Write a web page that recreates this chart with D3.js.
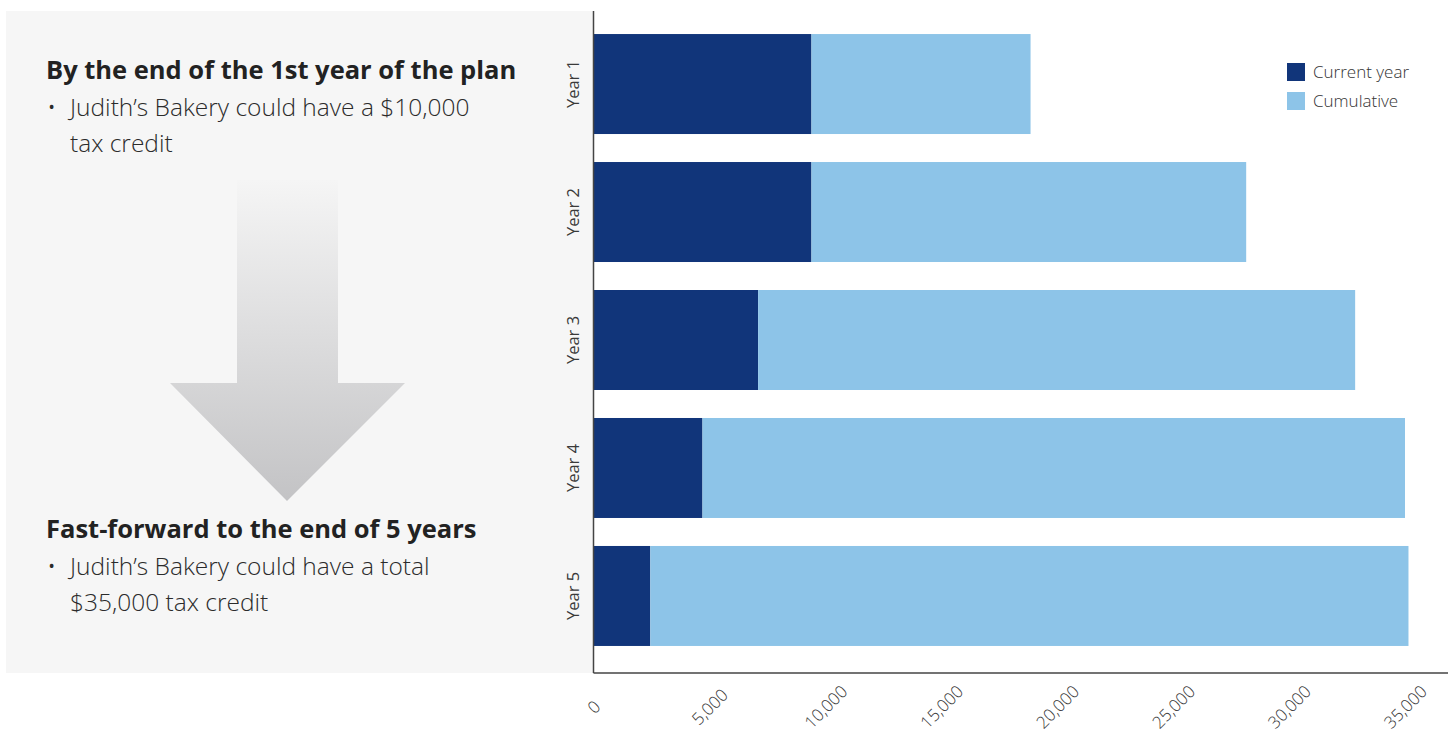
<!DOCTYPE html>
<html lang="en">

<head>
  <meta charset="UTF-8">
  <title>tax credit bars</title>
  <script src="https://d3js.org/d3.v7.min.js"></script>

  <style>
    body {
      margin: 0;
      background: white;
    }

    text {
      font-family: "Open Sans", "Noto Sans", sans-serif;
    }

    .heading {
      font-weight: 700;
      font-size: 25.5px;
      fill: #222;
    }

    .body {
      font-weight: 300;
      font-size: 24.5px;
      fill: #2b2b2b;
    }

    .tick text {
      font-size: 17px;
      fill: #3a3a3a;
      font-weight: 300;
    }

    .yearLabel {
      font-size: 16.5px;
      fill: #3a3a3a;
      font-weight: 400;
    }

    .legendText {
      font-size: 17px;
      fill: #333;
      font-weight: 300;
    }
  </style>
</head>

<body>
  <svg id="chart" height="733" width="1448"></svg>

  <script>
    // data
    const years = ["Year 1", "Year 2", "Year 3", "Year 4", "Year 5"];
    const currentYear = [9400, 9400, 7100, 4700, 2450];
    const cumulative = [9450, 18750, 25750, 30300, 32700];
    const seriesNames = ["Current year", "Cumulative"];
    const xTicks = [0, 5000, 10000, 15000, 20000, 25000, 30000, 35000];

    const notes = [
      { head: "By the end of the 1st year of the plan", lines: ["Judith\u2019s Bakery could have a $10,000", "tax credit"] },
      { head: "Fast-forward to the end of 5 years", lines: ["Judith\u2019s Bakery could have a total", "$35,000 tax credit"] }
    ];

    const svg = d3.select("#chart");
    const width = +svg.attr("width");

    const colors = d3.scaleOrdinal().domain(seriesNames).range(["#11357a", "#8dc4e8"]);

    // left grey panel
    svg.append("rect")
      .attr("x", 6).attr("y", 11)
      .attr("width", 588).attr("height", 662)
      .attr("fill", "#f6f6f6");

    // arrow with gradient
    const grad = svg.append("defs").append("linearGradient")
      .attr("id", "arrowGrad")
      .attr("x1", 0).attr("y1", 0).attr("x2", 0).attr("y2", 1);
    grad.append("stop").attr("offset", "0%").attr("stop-color", "#f5f5f5");
    grad.append("stop").attr("offset", "100%").attr("stop-color", "#c3c3c5");

    svg.append("path")
      .attr("d", "M237,180 L338,180 L338,383 L405,383 L287,501 L170,383 L237,383 Z")
      .attr("fill", "url(#arrowGrad)");

    // text blocks
    const noteY = [79, 538];
    notes.forEach((n, i) => {
      const g = svg.append("g").attr("transform", "translate(0," + noteY[i] + ")");
      g.append("text").attr("class", "heading").attr("x", 46).attr("y", 0).text(n.head);
      g.append("text").attr("class", "body").attr("x", 47).attr("y", 37).text("\u2022");
      n.lines.forEach((l, j) => {
        g.append("text").attr("class", "body").attr("x", 70).attr("y", 37 + j * 36).text(l);
      });
    });

    // scales
    const x = d3.scaleLinear().domain([0, 35000]).range([593.5, 1405]);
    const y = d3.scaleBand().domain(years).range([11, 669])
      .paddingInner(0.21875).paddingOuter(0.18);

    const table = years.map((d, i) => ({ year: d, "Current year": currentYear[i], "Cumulative": cumulative[i] }));
    const stacked = d3.stack().keys(seriesNames)(table);

    svg.append("g").selectAll("g").data(stacked)
      .join("g")
      .attr("fill", d => colors(d.key))
      .selectAll("rect").data(d => d)
      .join("rect")
      .attr("x", d => x(d[0]))
      .attr("width", d => x(d[1]) - x(d[0]))
      .attr("y", d => y(d.data.year))
      .attr("height", y.bandwidth());

    // axis lines
    svg.append("line")
      .attr("x1", 593.5).attr("x2", 593.5).attr("y1", 11).attr("y2", 673)
      .attr("stroke", "#444").attr("stroke-width", 1.5);
    svg.append("line")
      .attr("x1", 593.5).attr("x2", width).attr("y1", 673).attr("y2", 673)
      .attr("stroke", "#444").attr("stroke-width", 1.5);

    // x axis labels (rotated)
    const xAxis = svg.append("g")
      .attr("transform", "translate(0,673)")
      .call(d3.axisBottom(x).tickValues(xTicks).tickSize(0).tickFormat(d3.format(",")));
    xAxis.select(".domain").remove();
    xAxis.selectAll(".tick text")
      .attr("y", 0).attr("dy", "0.35em")
      .attr("text-anchor", "middle")
      .attr("transform", "translate(0,34) rotate(-45)");

    // year labels
    svg.append("g").selectAll("text").data(years)
      .join("text")
      .attr("class", "yearLabel")
      .attr("text-anchor", "middle")
      .attr("dy", "0.35em")
      .attr("transform", d => "translate(573," + (y(d) + y.bandwidth() / 2) + ") rotate(-90)")
      .text(d => d);

    // legend
    const legend = svg.append("g").attr("transform", "translate(1287,63)");
    seriesNames.forEach((s, i) => {
      legend.append("rect")
        .attr("x", 0).attr("y", i * 29)
        .attr("width", 18).attr("height", 18)
        .attr("fill", colors(s));
      legend.append("text")
        .attr("class", "legendText")
        .attr("x", 26).attr("y", i * 29 + 9).attr("dy", "0.35em")
        .text(s);
    });
  </script>
</body>

</html>
